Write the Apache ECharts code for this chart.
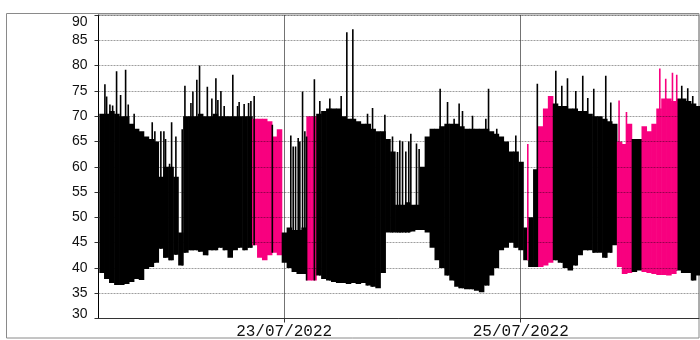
<!DOCTYPE html>
<html>
<head>
<meta charset="utf-8">
<script src="https://cdn.jsdelivr.net/npm/echarts@6/dist/echarts.min.js"></script>
<style>
  html, body { margin: 0; padding: 0; background: #fff; }
  #chart { width: 700px; height: 340px; }
</style>
</head>
<body>
<div id="chart"></div>
<script>
// hourly bins, first centre at 21/07/2022 11:00
const binStart = '2022-07-21T11:00';
const binLow = [
  39, 37.8, 37, 36.6, 36.6, 36.8, 37.2, 37.8, 37.6, 39.8, 40.2, 41,
  43.8, 42, 41.5, 42.6, 40.5, 43, 43.5, 43.5, 43.2, 42.5, 43.5, 43.5,
  44, 43.5, 42, 43.5, 44, 43.5, 44, 44.5, 42, 41.5, 42.5, 43, 42.5,
  41, 40, 39.2, 38.8, 38.8, 37.5, 37.5, 38.5, 37.8, 37.5, 37.2, 37,
  37, 36.8, 37, 36.8, 37, 36.5, 36.3, 36, 39, 47, 47, 47,
  47, 47, 47.2, 47.5, 47.5, 47, 44, 41.5, 40, 38.5, 37.5, 36.3,
  36, 35.8, 35.8, 35.5, 35.2, 36.5, 38.5, 40, 43.5, 44, 45, 44,
  43.5, 41.5, 40.2, 40.2, 40.2, 40.5, 41, 41.5, 41, 40, 39.5, 40.5,
  42.5, 43.5, 43.5, 43, 43, 42, 43, 44.5, 40.2, 38.8, 39, 39.2,
  39.5, 39.2, 39, 38.8, 38.6, 38.6, 38.5, 38.8, 39.5, 39, 39, 37.5, 38.5
];
const binHigh = [
  70.5, 70.5, 71, 70.5, 70, 70, 68.5, 67.5, 67, 66, 65.5, 65,
  58, 60, 60, 58, 47, 70, 70, 70, 70.5, 70, 70, 70.5,
  70, 70, 70, 70, 70, 70, 70, 69.5, 69.5, 69.5, 69, 66, 67.4,
  47, 48, 47.5, 47.5, 48, 70, 70, 70.5, 71, 71.5, 71.5, 71.5,
  70, 69.5, 69.5, 69, 68.5, 68.5, 67.5, 67, 67, 65.5, 63, 52.5,
  52.5, 53, 52.5, 52.5, 60, 66, 67.5, 67.5, 68, 68.5, 68.5, 68.5,
  68, 67.5, 67.5, 67.5, 67.5, 67.5, 67, 66.5, 66, 65, 63, 63,
  61, 48, 50, 59.5, 68, 71.5, 74, 72.5, 72, 72, 71.5, 71.5,
  71, 71, 70.5, 70, 70, 69.5, 69, 68.5, 65, 64.5, 68.5, 65.5,
  65.5, 68, 67, 68.5, 71.5, 73.5, 73.5, 73, 73.5, 73.5, 73, 72.5, 72
];
// 1 = flagged reading (pink)
const binAlarm = [
  0, 0, 0, 0, 0, 0, 0, 0, 0, 0, 0, 0,
  0, 0, 0, 0, 0, 0, 0, 0, 0, 0, 0, 0,
  0, 0, 0, 0, 0, 0, 0, 1, 1, 1, 1, 1, 1,
  0, 0, 0, 0, 0, 1, 1, 0, 0, 0, 0, 0,
  0, 0, 0, 0, 0, 0, 0, 0, 0, 0, 0, 0,
  0, 0, 0, 0, 0, 0, 0, 0, 0, 0, 0, 0,
  0, 0, 0, 0, 0, 0, 0, 0, 0, 0, 0, 0,
  0, 0, 0, 0, 1, 1, 1, 0, 0, 0, 0, 0,
  0, 0, 0, 0, 0, 0, 0, 0, 1, 1, 1, 0,
  0, 1, 1, 1, 1, 1, 1, 1, 0, 0, 0, 0, 0
];

// isolated peaks
const spikeTimes = [
  '2022-07-21 11:38', '2022-07-21 11:59', '2022-07-21 12:39', '2022-07-21 13:12', '2022-07-21 14:00', '2022-07-21 14:49', '2022-07-21 15:50', '2022-07-21 16:22', '2022-07-21 17:34', '2022-07-21 21:14', '2022-07-21 21:46', '2022-07-21 22:59', '2022-07-21 23:36', '2022-07-21 23:56',
  '2022-07-22 00:45', '2022-07-22 01:10', '2022-07-22 02:02', '2022-07-22 03:19', '2022-07-22 03:52', '2022-07-22 05:05', '2022-07-22 05:29', '2022-07-22 06:17', '2022-07-22 06:50', '2022-07-22 08:25', '2022-07-22 09:20', '2022-07-22 10:09', '2022-07-22 10:33', '2022-07-22 11:10', '2022-07-22 11:50', '2022-07-22 13:35', '2022-07-22 14:33', '2022-07-22 14:52', '2022-07-22 15:53', '2022-07-22 16:47', '2022-07-22 17:15', '2022-07-22 17:55', '2022-07-22 21:36',
  '2022-07-23 01:21', '2022-07-23 01:50', '2022-07-23 02:19', '2022-07-23 02:51', '2022-07-23 03:11', '2022-07-23 03:44', '2022-07-23 04:12', '2022-07-23 04:33', '2022-07-23 06:08', '2022-07-23 07:14', '2022-07-23 09:16', '2022-07-23 11:34', '2022-07-23 12:43', '2022-07-23 13:56', '2022-07-23 16:55', '2022-07-23 17:56', '2022-07-23 20:26', '2022-07-23 21:59', '2022-07-23 23:00', '2022-07-23 23:28',
  '2022-07-24 00:01', '2022-07-24 00:41', '2022-07-24 01:17', '2022-07-24 01:42', '2022-07-24 02:51', '2022-07-24 03:23', '2022-07-24 07:39', '2022-07-24 09:09', '2022-07-24 10:29', '2022-07-24 11:30', '2022-07-24 12:11', '2022-07-24 14:13', '2022-07-24 16:55', '2022-07-24 17:28', '2022-07-24 19:08', '2022-07-24 23:00',
  '2022-07-25 01:26', '2022-07-25 03:22', '2022-07-25 07:07', '2022-07-25 08:20', '2022-07-25 09:29', '2022-07-25 11:10', '2022-07-25 12:35', '2022-07-25 13:36', '2022-07-25 14:49', '2022-07-25 17:15', '2022-07-25 18:16', '2022-07-25 19:57', '2022-07-25 21:27',
  '2022-07-26 04:13', '2022-07-26 05:25', '2022-07-26 06:47', '2022-07-26 07:39', '2022-07-26 08:40', '2022-07-26 09:53', '2022-07-26 10:54'
];
const spikeValues = [
  76.3, 73.9, 72.3, 72.1, 78.9, 74.2, 79.2, 72.3, 70.5, 68.8, 67, 67, 67, 65.5,
  60.6, 68.8, 66, 67.4, 76, 72.6, 74.9, 77.2, 80, 75.8, 73.5, 77.5, 73.2, 75, 72, 78.2, 72, 72.8, 72.4, 72.6, 73, 74, 68.3,
  66.2, 64, 64, 65.7, 65, 74.9, 67, 66, 77.3, 73, 73.5, 74, 86.6, 87.2, 70.5, 71.6, 70.3, 66, 62.9, 65.2,
  65, 63, 65, 66.5, 64.6, 63.5, 75.4, 72.8, 69.5, 72.5, 71, 70.1, 69.5, 75.4, 67.5, 66.2,
  64.5, 76.4, 79, 76, 77.5, 75, 78, 73.6, 75.4, 78, 72.7, 73.1, 70.8,
  79.4, 77.4, 78.6, 78.2, 76, 75.5, 74
];
const spikeAlarm = [
  0, 0, 0, 0, 0, 0, 0, 0, 0, 0, 0, 0, 0, 0,
  0, 0, 0, 0, 0, 0, 0, 0, 0, 0, 0, 0, 0, 0, 0, 0, 0, 0, 0, 0, 0, 0, 0,
  0, 0, 0, 0, 0, 0, 0, 0, 0, 0, 0, 0, 0, 0, 0, 0, 0, 0, 0, 0,
  0, 0, 0, 0, 0, 0, 0, 0, 0, 0, 0, 0, 0, 0, 0, 0,
  1, 0, 0, 0, 0, 0, 0, 0, 0, 0, 0, 1, 1,
  1, 1, 1, 1, 0, 0, 0
];

const xStart = '2022-07-21T10:20';
const xEnd = '2022-07-26T12:10';
const xLabelDates = ['2022-07-23T00:00', '2022-07-25T00:00'];

const BLACK = '#000';
const PINK = '#f8007f';
const HOUR = 3600000;
const ts = s => +new Date(s.replace(' ', 'T'));

const t0 = ts(binStart);
const binData = binLow.map((lo, i) => [t0 + i * HOUR, lo, binHigh[i], binAlarm[i]]);
const spikeData = spikeTimes.map((s, i) => {
  const t = ts(s);
  const k = Math.min(binLow.length - 1, Math.max(0, Math.round((t - t0) / HOUR)));
  return [t, binLow[k], spikeValues[i], spikeAlarm[i]];
});

const chart = echarts.init(document.getElementById('chart'));

const option = {
  animation: false,
  grid: {
    left: 98.5, right: 1, top: 15, bottom: 21.5,
    show: true, borderColor: '#999', borderWidth: 1
  },
  graphic: [{
    type: 'rect',
    shape: { x: 6.5, y: 13.5, width: 692.5, height: 324.5 },
    style: { fill: null, stroke: '#8a8a8a', lineWidth: 1 },
    silent: true, z: 0
  }],
  xAxis: {
    type: 'value',
    min: ts(xStart),
    max: ts(xEnd),
    z: 10,
    axisLine: { lineStyle: { color: '#333', width: 1 } },
    axisTick: { show: true, length: 4, customValues: xLabelDates.map(ts), lineStyle: { color: '#333' } },
    axisLabel: {
      customValues: xLabelDates.map(ts),
      margin: 5,
      fontFamily: 'Liberation Mono',
      fontSize: 16,
      color: '#111',
      formatter: v => {
        const d = new Date(v);
        const p = n => String(n).padStart(2, '0');
        return p(d.getDate()) + '/' + p(d.getMonth() + 1) + '/' + d.getFullYear();
      }
    },
    splitLine: { show: true, lineStyle: { color: 'rgba(0,0,0,0.55)', width: 1 } }
  },
  yAxis: {
    type: 'value',
    min: 30, max: 90, interval: 5,
    z: 10,
    axisLine: { show: true, lineStyle: { color: '#000', width: 1 } },
    axisTick: { show: true, length: 4, lineStyle: { color: '#333' } },
    axisLabel: {
      margin: 11,
      fontFamily: 'Liberation Sans',
      fontSize: 14,
      color: '#111',
      formatter: v => v === 90 ? '{t|90}' : v === 30 ? '{b|30}' : String(v),
      rich: {
        t: { fontFamily: 'Liberation Sans', fontSize: 14, color: '#111', padding: [14, 0, 0, 0] },
        b: { fontFamily: 'Liberation Sans', fontSize: 14, color: '#111', padding: [0, 0, 8, 0] }
      }
    },
    splitLine: { show: true, lineStyle: { color: 'rgba(0,0,0,0.38)', width: 1, type: [2, 1] } }
  },
  series: [
    {
      name: 'readings',
      type: 'custom',
      clip: true,
      data: binData,
      renderItem: (params, api) => {
        const t = api.value(0);
        const a = api.coord([t - HOUR / 2, api.value(2)]);
        const b = api.coord([t + HOUR / 2, api.value(1)]);
        return {
          type: 'rect',
          shape: { x: a[0], y: a[1], width: b[0] - a[0] + 0.6, height: b[1] - a[1] },
          style: { fill: api.value(3) ? PINK : BLACK }
        };
      }
    },
    {
      name: 'peaks',
      type: 'custom',
      clip: true,
      data: spikeData,
      renderItem: (params, api) => {
        const a = api.coord([api.value(0), api.value(2)]);
        const b = api.coord([api.value(0), api.value(1)]);
        return {
          type: 'rect',
          shape: { x: a[0] - 0.8, y: a[1], width: 1.6, height: b[1] - a[1] },
          style: { fill: api.value(3) ? PINK : BLACK }
        };
      }
    }
  ]
};

chart.setOption(option);
</script>
</body>
</html>
